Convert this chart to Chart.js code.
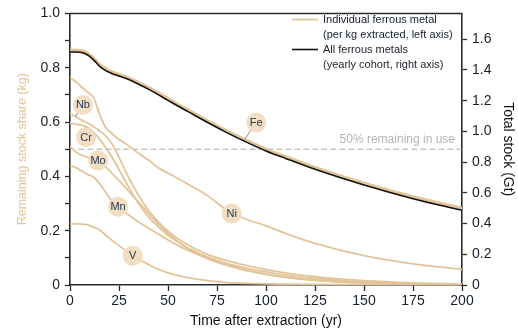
<!DOCTYPE html>
<html>
<head>
<meta charset="utf-8">
<script src="https://cdn.jsdelivr.net/npm/chart.js@4.4.1/dist/chart.umd.min.js"></script>
<style>
  html, body { margin: 0; padding: 0; background: #fff; }
  canvas { display: block; }
</style>
</head>
<body>
<canvas id="chart" width="518" height="332"></canvas>
<script>
// time after extraction (yr)
const years = [0, 3, 6, 9, 12, 15, 18, 21, 25, 30, 35, 40, 45, 50, 55, 60, 70, 80, 90, 100, 110, 125, 150, 175, 200];

// remaining stock share per kg extracted (left axis)
const fe = [0.864, 0.864, 0.862, 0.853, 0.835, 0.812, 0.796, 0.786, 0.775, 0.762, 0.745, 0.727, 0.707, 0.686, 0.665, 0.645, 0.605, 0.567, 0.532, 0.500, 0.472, 0.432, 0.374, 0.324, 0.282];
const ni = [0.763, 0.748, 0.728, 0.710, 0.690, 0.630, 0.582, 0.560, 0.536, 0.512, 0.485, 0.460, 0.432, 0.412, 0.392, 0.372, 0.330, 0.275, 0.242, 0.218, 0.190, 0.153, 0.108, 0.078, 0.057];
const nb = [0.632, 0.620, 0.607, 0.596, 0.584, 0.568, 0.550, 0.525, 0.470, 0.395, 0.330, 0.275, 0.232, 0.198, 0.170, 0.148, 0.113, 0.090, 0.072, 0.057, 0.045, 0.031, 0.016, 0.008, 0.004];
const cr = [0.595, 0.592, 0.588, 0.580, 0.563, 0.538, 0.508, 0.475, 0.425, 0.360, 0.300, 0.252, 0.214, 0.183, 0.158, 0.137, 0.104, 0.080, 0.062, 0.048, 0.036, 0.024, 0.011, 0.005, 0.002];
const mo = [0.510, 0.490, 0.478, 0.470, 0.462, 0.451, 0.436, 0.415, 0.385, 0.345, 0.305, 0.265, 0.225, 0.190, 0.160, 0.135, 0.098, 0.072, 0.053, 0.039, 0.028, 0.017, 0.007, 0.003, 0.001];
const mn = [0.440, 0.432, 0.420, 0.407, 0.397, 0.375, 0.343, 0.313, 0.287, 0.258, 0.232, 0.210, 0.188, 0.166, 0.146, 0.128, 0.098, 0.074, 0.055, 0.040, 0.029, 0.018, 0.008, 0.003, 0.001];
const v  = [0.226, 0.225, 0.224, 0.221, 0.213, 0.203, 0.185, 0.167, 0.145, 0.118, 0.096, 0.076, 0.058, 0.045, 0.035, 0.027, 0.016, 0.009, 0.006, 0.004, 0.003, 0.002, 0.001, 0.000, 0.000];

// total stock of the yearly cohort, all ferrous metals (right axis, Gt)
const allFerrous = [1.517, 1.517, 1.513, 1.497, 1.466, 1.425, 1.397, 1.379, 1.360, 1.337, 1.307, 1.275, 1.239, 1.202, 1.165, 1.130, 1.059, 0.992, 0.930, 0.873, 0.824, 0.753, 0.651, 0.562, 0.486];

// 50% remaining-in-use reference
const halfLine = [[4.5, 0.5], [200, 0.5]];

// metal labels: [name, year, share], optional leader end [year, share]
const metalLabels = [
  ['Nb', 6.6, 0.663, [2.8, 0.621]],
  ['Cr', 8.2, 0.544, [8.5, 0.581]],
  ['Mo', 14.3, 0.458],
  ['Mn', 24.5, 0.288],
  ['V', 32, 0.108],
  ['Ni', 82.5, 0.263],
  ['Fe', 95, 0.598, [89, 0.535]],
];

const xTicks = [0, 25, 50, 75, 100, 125, 150, 175, 200];

const TAN = '#e3c498';
const INK = '#17202c';
const AXIS = '#2a2a2a';
const FONT = '"Liberation Sans", Arial, sans-serif';

Chart.defaults.font.family = FONT;
Chart.defaults.color = INK;

function pts(ys) {
  return years.map((t, i) => ({x: t, y: ys[i]}));
}

function metal(ys) {
  return {data: pts(ys), borderColor: TAN, borderWidth: 1.8, yAxisID: 'y'};
}

const overlay = {
  id: 'overlay',
  afterDatasetsDraw(chart) {
    const {ctx, chartArea: a, scales: {x, y}} = chart;
    ctx.save();

    // frame top edge
    ctx.strokeStyle = AXIS;
    ctx.lineWidth = 1.5;
    ctx.beginPath();
    ctx.moveTo(a.left, a.top);
    ctx.lineTo(a.right, a.top);
    ctx.stroke();

    // reference label
    ctx.font = '12px ' + FONT;
    ctx.fillStyle = '#b4b4b4';
    ctx.textAlign = 'right';
    ctx.textBaseline = 'bottom';
    ctx.fillText('50% remaining in use', a.right - 7, y.getPixelForValue(0.5) - 4);

    // leaders
    ctx.strokeStyle = '#8a8a8a';
    ctx.lineWidth = 1;
    metalLabels.forEach(([, t, s, end]) => {
      if (!end) return;
      ctx.beginPath();
      ctx.moveTo(x.getPixelForValue(t), y.getPixelForValue(s));
      ctx.lineTo(x.getPixelForValue(end[0]), y.getPixelForValue(end[1]));
      ctx.stroke();
    });

    // bubbles
    ctx.font = '11px ' + FONT;
    ctx.textAlign = 'center';
    ctx.textBaseline = 'middle';
    metalLabels.forEach(([name, t, s]) => {
      const px = x.getPixelForValue(t);
      const py = y.getPixelForValue(s);
      ctx.fillStyle = 'rgba(240, 220, 192, 0.95)';
      ctx.beginPath();
      ctx.arc(px, py, 10, 0, Math.PI * 2);
      ctx.fill();
      ctx.fillStyle = '#243a52';
      ctx.fillText(name, px, py + 0.5);
    });

    // legend
    ctx.font = '11px ' + FONT;
    ctx.textAlign = 'left';
    ctx.textBaseline = 'middle';
    const lx = 292, tx = 323;
    ctx.lineWidth = 1.8;
    ctx.strokeStyle = TAN;
    ctx.beginPath(); ctx.moveTo(lx, 19.5); ctx.lineTo(lx + 26, 19.5); ctx.stroke();
    ctx.strokeStyle = '#111';
    ctx.lineWidth = 1.6;
    ctx.beginPath(); ctx.moveTo(lx, 49.5); ctx.lineTo(lx + 26, 49.5); ctx.stroke();
    ctx.fillStyle = INK;
    ctx.fillText('Individual ferrous metal', tx, 19.5);
    ctx.fillText('(per kg extracted, left axis)', tx, 34.5);
    ctx.fillText('All ferrous metals', tx, 49.5);
    ctx.fillText('(yearly cohort, right axis)', tx, 64.5);

    ctx.restore();
  }
};

new Chart(document.getElementById('chart'), {
  type: 'line',
  data: {
    datasets: [
      {data: pts(allFerrous), borderColor: '#111', borderWidth: 1.6, yAxisID: 'y1'},
      {data: pts(fe), borderColor: TAN, borderWidth: 3.4, yAxisID: 'y'},
      metal(ni),
      metal(nb),
      metal(cr),
      metal(mo),
      metal(mn),
      metal(v),
      {data: halfLine, borderColor: '#a8a8a8', borderWidth: 1, borderDash: [5, 4], yAxisID: 'y', cubicInterpolationMode: 'default', tension: 0},
    ]
  },
  options: {
    responsive: false,
    animation: false,
    layout: {padding: {top: 8}},
    elements: {
      point: {radius: 0},
      line: {cubicInterpolationMode: 'monotone', borderCapStyle: 'round'}
    },
    plugins: {legend: {display: false}, tooltip: {enabled: false}},
    scales: {
      x: {
        type: 'linear',
        min: 0,
        max: 200,
        afterFit: s => { s.height = 47; },
        afterBuildTicks: s => { s.ticks = xTicks.map(value => ({value})); },
        border: {color: AXIS, width: 1.6},
        grid: {drawOnChartArea: false, tickLength: 6, color: AXIS, tickWidth: 1.3},
        ticks: {font: {size: 14}, padding: 2, color: INK},
        title: {display: true, text: 'Time after extraction (yr)', font: {size: 14}, color: '#111', padding: {top: 0, bottom: 2}}
      },
      y: {
        position: 'left',
        min: 0,
        max: 1,
        afterFit: s => { s.width = 70; },
        border: {color: AXIS, width: 1.6},
        grid: {drawOnChartArea: false, tickLength: 5, color: AXIS, tickWidth: 1.3},
        ticks: {
          stepSize: 0.1,
          font: {size: 14},
          padding: 5,
          color: INK,
          callback: v => {
            const k = Math.round(v * 10);
            if (k % 2) return '';
            return k === 0 ? '0' : (k / 10).toFixed(1);
          }
        },
        title: {display: true, text: 'Remaining stock share (kg)', font: {size: 12.5}, color: TAN, padding: {top: 15, bottom: 0}}
      },
      y1: {
        position: 'right',
        min: 0,
        max: 1.768,
        afterFit: s => { s.width = 56; },
        border: {color: AXIS, width: 1.6},
        grid: {drawOnChartArea: false, tickLength: 5, color: AXIS, tickWidth: 1.3},
        ticks: {
          stepSize: 0.2,
          includeBounds: false,
          font: {size: 14},
          padding: 5,
          color: INK,
          callback: v => (Math.abs(v) < 1e-9 ? '0' : v.toFixed(1))
        },
        title: {display: true, text: 'Total stock (Gt)', font: {size: 14}, color: '#111', padding: {top: 2, bottom: 0}}
      }
    }
  },
  plugins: [overlay]
});
</script>
</body>
</html>
